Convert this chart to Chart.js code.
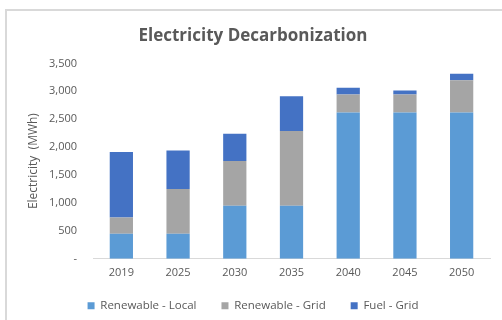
<!DOCTYPE html>
<html>
<head>
<meta charset="utf-8">
<script src="https://cdn.jsdelivr.net/npm/chart.js@4"></script>
<style>
  html, body { margin: 0; padding: 0; background: #fff; overflow: hidden; }
  #wrap { position: relative; width: 502px; height: 320px; }
  #frame { position: absolute; left: 5px; top: 9px; width: 520px; height: 340px; border: 2px solid #d9d9d9; box-sizing: border-box; }
  canvas { position: absolute; left: 0; top: 0; }
</style>
</head>
<body>
<div id="wrap">
  <div id="frame"></div>
  <canvas id="decarb" width="502" height="320"></canvas>
</div>
<script>
var years = ["2019", "2025", "2030", "2035", "2040", "2045", "2050"];
var renewableLocal = [450, 450, 950, 950, 2620, 2620, 2620];
var renewableGrid = [290, 800, 800, 1340, 325, 325, 580];
var fuelGrid = [1175, 690, 490, 620, 120, 70, 115];
var yTicks = [0, 500, 1000, 1500, 2000, 2500, 3000, 3500];

// legend sits closer to the axis labels than chart.js would put it
var legendShift = {
    id: "legendShift",
    beforeInit: function(chart) {
        var fit = chart.legend.fit;
        chart.legend.fit = function() {
            fit.call(this);
            this.height = 34;
        };
    },
    afterLayout: function(chart) {
        chart.legend.top -= 11;
    }
};

document.addEventListener("DOMContentLoaded", function() {
    var ctx = document.getElementById("decarb").getContext("2d");
    var font = "'Open Sans', 'Liberation Sans', sans-serif";

    var data = {
    labels: years,
    datasets: [
        {
        label: "Renewable - Local",
        data: renewableLocal,
        backgroundColor: "#5b9bd5"
        },
        {
        label: "Renewable - Grid",
        data: renewableGrid,
        backgroundColor: "#a5a5a5"
        },
        {
        label: "Fuel - Grid",
        data: fuelGrid,
        backgroundColor: "#4472c4"
        }
    ]
    };

    var options = {
    responsive: false,
    animation: false,
    datasets: { bar: { barPercentage: 0.82, categoryPercentage: 0.5 } },
    layout: { padding: { left: 16, right: 12, top: 10, bottom: 0 } },
    plugins: {
        title: {
        display: true,
        text: "Electricity Decarbonization",
        color: "#595959",
        font: { family: font, size: 17, weight: "bold" },
        padding: { top: 16, bottom: 17 }
        },
        legend: {
        position: "bottom",
        labels: {
            color: "#595959",
            font: { family: font, size: 11.5 },
            boxWidth: 7,
            boxHeight: 7,
            padding: 25
        }
        },
        tooltip: { enabled: false }
    },
    scales: {
        x: {
        stacked: true,
        grid: { display: false, drawTicks: false },
        border: { color: "#d9d9d9", width: 1 },
        ticks: { color: "#595959", font: { family: font, size: 11 }, padding: 7 }
        },
        y: {
        stacked: true,
        min: 0,
        max: 3500,
        afterBuildTicks: function(axis) {
            axis.ticks = yTicks.map(function(v) { return { value: v }; });
        },
        afterFit: function(axis) {
            axis.width = 77;
        },
        grid: { display: false, drawTicks: false },
        border: { display: false },
        ticks: {
            color: "#595959",
            font: { family: font, size: 11 },
            padding: 16,
            callback: function(v) { return v === 0 ? "-" : v.toLocaleString("en-US"); }
        },
        title: {
            display: true,
            text: "Electricity  (MWh)",
            color: "#595959",
            font: { family: font, size: 12 },
            padding: 10
        }
        }
    }
    };

    var chart = new Chart(ctx, {
    type: "bar",
    data: data,
    options: options,
    plugins: [legendShift]
    });
});
</script>
</body>
</html>
